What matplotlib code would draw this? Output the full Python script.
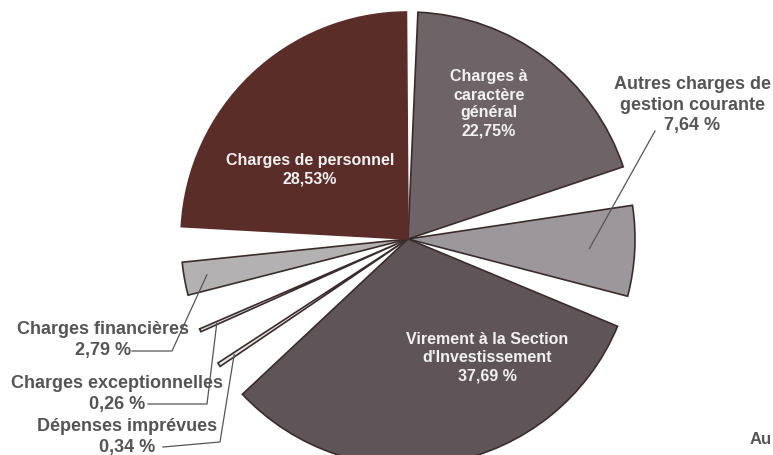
import numpy as np
import matplotlib.pyplot as plt
from matplotlib.patches import Wedge

# slices, clockwise from the top
categories = ["Charges à\ncaractère\ngénéral",
              "Autres charges de\ngestion courante",
              "Virement à la Section\nd'Investissement",
              "Dépenses imprévues",
              "Charges exceptionnelles",
              "Charges financières",
              "Charges de personnel"]
shares = [22.75, 7.64, 37.69, 0.34, 0.26, 2.79, 28.53]
pct_labels = ["22,75%", "7,64 %", "37,69 %", "0,34 %", "0,26 %", "2,79 %", "28,53%"]

colors = ["#6e6468", "#9c979a", "#5f5559", "#e8e8e6", "#d9d9d7", "#b4b1b2", "#5b2d28"]
gaps = [10, 8, 9, 9, 9, 9, 2.9]  # white space after each slice (deg)

W, H = 773, 456
fig = plt.figure(figsize=(7.73, 4.56), dpi=100)
ax = fig.add_axes([0, 0, 1, 1])
ax.set_xlim(0, W)
ax.set_ylim(0, H)
ax.axis("off")

cx, cy, R = 408, H - 240, 227
sweep = 360 - sum(gaps)
total = sum(shares)
start = 87.5
mids = []
for i, v in enumerate(shares):
    span = v / total * sweep
    t2 = start
    t1 = start - span
    ec = colors[i] if i == 6 else "#3b2c2c"
    ax.add_patch(Wedge((cx, cy), R, t1, t2, facecolor=colors[i],
                       edgecolor=ec, lw=1.2))
    mids.append(np.deg2rad((t1 + t2) / 2))
    start = t1 - gaps[i]

font = "Liberation Sans"

# labels inside the slices
inner = {0: (489, 104), 2: (487, 358), 6: (310, 170)}
for i, (x, y) in inner.items():
    ax.text(x, H - y, categories[i] + "\n" + pct_labels[i], ha="center", va="center",
            fontsize=11.5, fontweight="bold", color="#f2f0f0", family=font,
            linespacing=1.25)

# labels outside with leader lines
outer = {1: (692, 105), 5: (103, 340), 4: (117, 394), 3: (127, 437)}
leaders = {1: [(655, 132)],
           5: [(132, 352), (172, 352)],
           4: [(148, 405), (207, 405)],
           3: [(163, 448), (220, 443)]}
radius_frac = {1: 0.8, 5: 0.9, 4: 0.92, 3: 0.92}
for i, (x, y) in outer.items():
    ax.text(x, H - y, categories[i] + "\n" + pct_labels[i], ha="center", va="center",
            fontsize=13, fontweight="bold", color="#555555", family=font,
            linespacing=1.3)
    pts = [(px, H - py) for px, py in leaders[i]]
    r = R * radius_frac[i]
    pts.append((cx + r * np.cos(mids[i]), cy + r * np.sin(mids[i])))
    xs, ys = zip(*pts)
    ax.plot(xs, ys, color="#555555", lw=0.9)

# fragment of the neighbouring chart at the page edge
ax.text(750, H - 440, "Au", fontsize=12, fontweight="bold", color="#555555",
        family=font, va="center")

fig.savefig("out.png", dpi=100)
